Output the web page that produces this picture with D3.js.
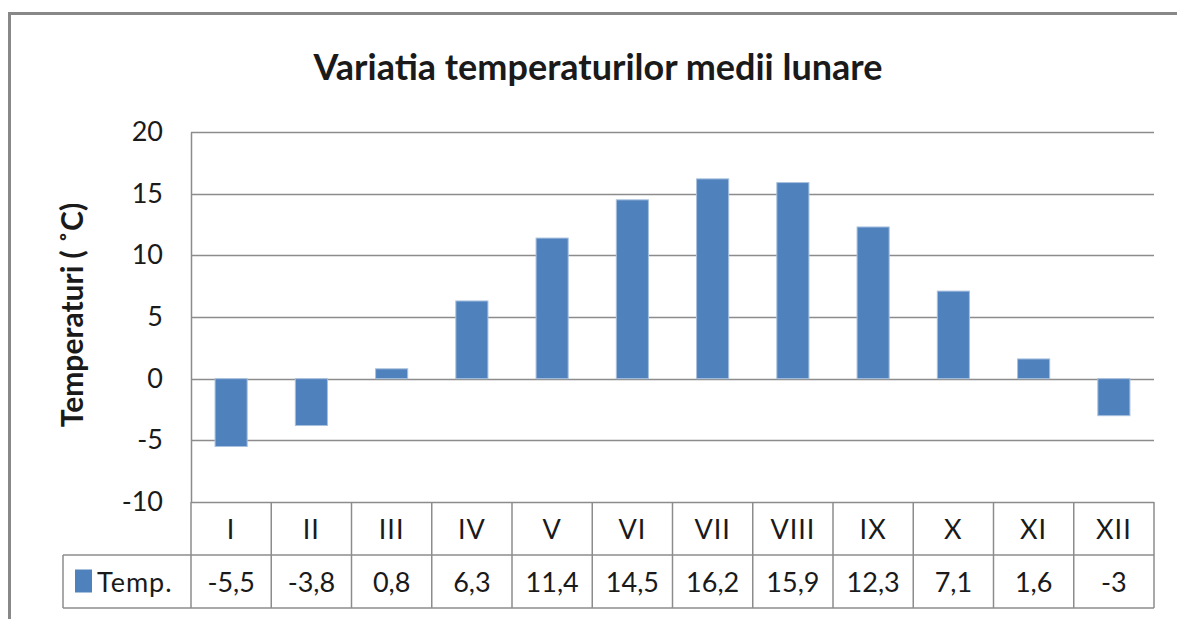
<!DOCTYPE html>
<html lang="ro">
<head>
    <meta charset="utf-8">
    <title>Variatia temperaturilor medii lunare</title>
    <script type="text/javascript" src="https://d3js.org/d3.v7.min.js"></script>
    <style>
     body { margin: 0; background: white; }
     svg text { font-family: Lato, "Open Sans", sans-serif; fill: #1a1a1a; }
    </style>
</head>
<body>
    <div id="chart"></div>
    <script type="text/javascript">
        // data
        const months = ["I", "II", "III", "IV", "V", "VI", "VII", "VIII", "IX", "X", "XI", "XII"];
        const temps = [-5.5, -3.8, 0.8, 6.3, 11.4, 14.5, 16.2, 15.9, 12.3, 7.1, 1.6, -3];
        const yTicks = [-10, -5, 0, 5, 10, 15, 20];
        const seriesName = "Temp.";

        const width = 1177;
        const height = 619;
        const plotLeft = 191;
        const plotRight = 1154;
        const plotTop = 132;
        const plotBottom = 502;
        const rowH = 53;
        const legendLeft = 63;
        const gridColor = "#8c8c8c";
        const barColor = "#4f81bd";
        const fontSize = 27;

        const svg = d3.select("#chart")
            .append("svg")
            .attr("width", width)
            .attr("height", height);

        // outer frame
        svg.append("rect")
            .attr("x", 9.5).attr("y", 13.5)
            .attr("width", width + 20).attr("height", height + 20)
            .attr("fill", "white")
            .attr("stroke", "#888").attr("stroke-width", 3);

        const x = d3.scaleBand()
            .domain(months)
            .range([plotLeft, plotRight])
            .padding(0);

        const y = d3.scaleLinear()
            .domain([-10, 20])
            .range([plotBottom, plotTop]);

        // gridlines
        svg.append("g")
            .selectAll("line")
            .data(yTicks)
            .enter()
            .append("line")
                .attr("x1", plotLeft).attr("x2", plotRight)
                .attr("y1", d => Math.round(y(d)) + 0.5)
                .attr("y2", d => Math.round(y(d)) + 0.5)
                .attr("stroke", gridColor).attr("stroke-width", 1.5);

        // y axis
        const yAxis = d3.axisLeft(y)
            .tickValues(yTicks)
            .tickFormat(d => String(d))
            .tickSize(0)
            .tickPadding(28);

        const gy = svg.append("g")
            .attr("transform", "translate(" + plotLeft + ",0)")
            .call(yAxis);
        gy.select(".domain").attr("stroke", gridColor).attr("stroke-width", 1.5);
        gy.selectAll("text")
            .attr("font-size", fontSize)
            .attr("font-family", "Lato, 'Open Sans', sans-serif")
            .attr("fill", "#1a1a1a");

        // bars
        const barW = x.bandwidth() / 2.5;
        svg.append("g")
            .selectAll("rect")
            .data(temps)
            .enter()
            .append("rect")
                .attr("x", (d, i) => x(months[i]) + (x.bandwidth() - barW) / 2)
                .attr("y", d => y(Math.max(0, d)))
                .attr("width", barW)
                .attr("height", d => Math.abs(y(d) - y(0)))
                .attr("fill", barColor)
                .attr("stroke", "#a7c0de").attr("stroke-width", 1);

        // data table
        const table = svg.append("g")
            .attr("stroke", gridColor).attr("stroke-width", 1.5).attr("fill", "none");

        table.append("line")
            .attr("x1", legendLeft).attr("x2", plotRight)
            .attr("y1", plotBottom + rowH).attr("y2", plotBottom + rowH);
        table.append("line")
            .attr("x1", legendLeft).attr("x2", plotRight)
            .attr("y1", plotBottom + 2 * rowH).attr("y2", plotBottom + 2 * rowH);
        table.append("line")
            .attr("x1", legendLeft).attr("x2", legendLeft)
            .attr("y1", plotBottom + rowH).attr("y2", plotBottom + 2 * rowH);
        table.selectAll("line.col")
            .data(months.concat(["end"]))
            .enter()
            .append("line")
                .attr("class", "col")
                .attr("x1", (d, i) => plotLeft + i * x.step())
                .attr("x2", (d, i) => plotLeft + i * x.step())
                .attr("y1", plotBottom)
                .attr("y2", plotBottom + 2 * rowH);

        svg.append("g")
            .selectAll("text")
            .data(months)
            .enter()
            .append("text")
                .attr("x", d => x(d) + x.bandwidth() / 2)
                .attr("y", plotBottom + rowH / 2 + 10)
                .attr("text-anchor", "middle")
                .attr("font-size", fontSize)
                .attr("letter-spacing", 1)
                .text(d => d);

        svg.append("g")
            .selectAll("text")
            .data(temps)
            .enter()
            .append("text")
                .attr("x", (d, i) => x(months[i]) + x.bandwidth() / 2)
                .attr("y", plotBottom + rowH * 1.5 + 10)
                .attr("text-anchor", "middle")
                .attr("font-size", fontSize)
                .text(d => String(d).replace(".", ","));

        // legend cell
        svg.append("rect")
            .attr("x", 75).attr("y", plotBottom + rowH * 1.5 - 12)
            .attr("width", 17).attr("height", 23)
            .attr("fill", barColor);
        svg.append("text")
            .attr("x", 97).attr("y", plotBottom + rowH * 1.5 + 10)
            .attr("font-size", fontSize)
            .attr("letter-spacing", 1)
            .text(seriesName);

        // title
        svg.append("text")
            .attr("x", 598).attr("y", 80)
            .attr("text-anchor", "middle")
            .attr("font-size", 36).attr("font-weight", "bold")
            .text("Variatia temperaturilor medii lunare");

        // y axis title
        svg.append("text")
            .attr("transform", "translate(83,315) rotate(-90)")
            .attr("text-anchor", "middle")
            .attr("font-size", 30).attr("font-weight", "bold")
            .text("Temperaturi ( ˚C)");
    </script>
</body>
</html>
